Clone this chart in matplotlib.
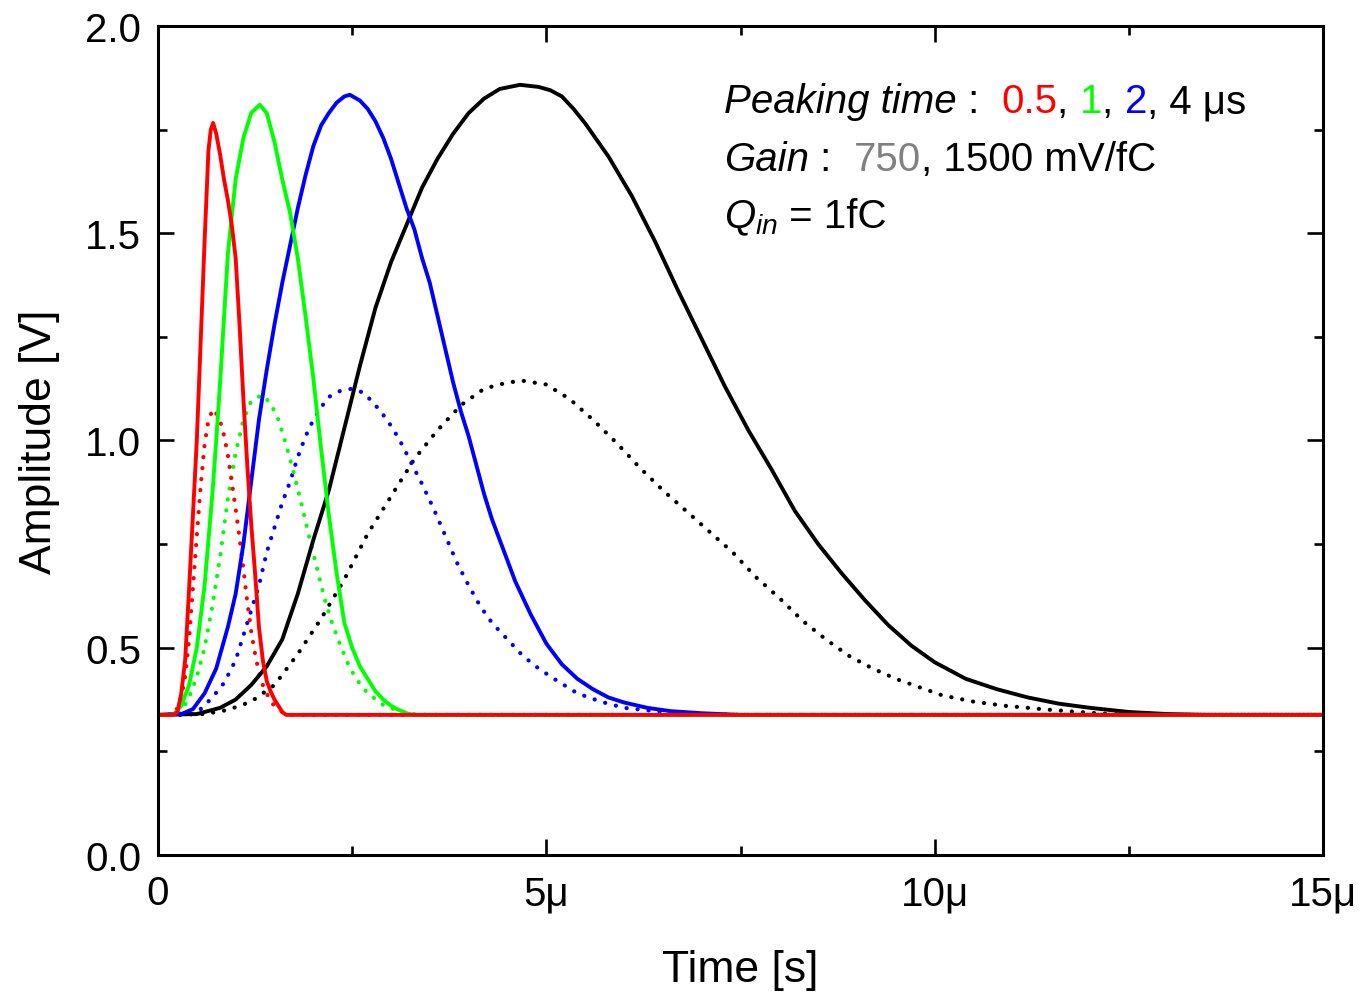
import matplotlib
matplotlib.use("Agg")
import matplotlib.pyplot as plt
from matplotlib.ticker import MultipleLocator, FixedLocator, FixedFormatter
from matplotlib.offsetbox import TextArea, HPacker, VPacker, AnchoredOffsetbox

plt.rcParams['font.family'] = ['Liberation Sans', 'DejaVu Sans']
plt.rcParams['mathtext.fontset'] = 'custom'
plt.rcParams['mathtext.rm'] = 'Liberation Sans'
plt.rcParams['mathtext.it'] = 'Liberation Sans:italic'

# ---- data (time in microseconds, amplitude in V) ----
t_red = [0, 0.2, 0.25, 0.3, 0.35, 0.4, 0.45, 0.5, 0.55, 0.6, 0.65, 0.68, 0.71, 0.75, 0.8, 0.85, 0.9, 0.95,
         1.0, 1.05, 1.1, 1.15, 1.2, 1.25, 1.3, 1.35, 1.4, 1.45, 1.5, 1.55, 1.6, 1.65, 15]
v_red = [0.338, 0.338, 0.345, 0.39, 0.47, 0.64, 0.82, 1.0, 1.24, 1.48, 1.70, 1.75, 1.766, 1.74, 1.69, 1.63, 1.58, 1.52,
         1.44, 1.28, 1.10, 0.94, 0.80, 0.68, 0.55, 0.47, 0.42, 0.395, 0.375, 0.36, 0.345, 0.338, 0.338]

t_green = [0, 0.2, 0.3, 0.4, 0.5, 0.6, 0.7, 0.75, 0.8, 0.9, 1.0, 1.1, 1.2, 1.31, 1.4, 1.5, 1.6, 1.7, 1.8, 1.9,
           2.0, 2.1, 2.2, 2.3, 2.4, 2.5, 2.6, 2.7, 2.8, 2.9, 3.0, 3.1, 3.2, 3.3, 15]
v_green = [0.338, 0.338, 0.36, 0.41, 0.50, 0.65, 0.87, 1.0, 1.14, 1.45, 1.63, 1.73, 1.79, 1.81, 1.79, 1.72, 1.63, 1.55, 1.44, 1.30,
           1.15, 0.98, 0.82, 0.68, 0.56, 0.50, 0.455, 0.425, 0.395, 0.375, 0.36, 0.35, 0.342, 0.338, 0.338]

t_blue = [0, 0.3, 0.45, 0.6, 0.75, 0.9, 1.0, 1.1, 1.2, 1.3, 1.4, 1.5, 1.6, 1.7, 1.8, 1.9, 2.0, 2.1, 2.2, 2.3, 2.4, 2.47,
          2.6, 2.7, 2.8, 2.9, 3.0, 3.1, 3.2, 3.3, 3.4, 3.5, 3.6, 3.7, 3.8, 3.9, 4.0, 4.1, 4.2, 4.3, 4.4, 4.5, 4.6,
          4.7, 4.8, 4.9, 5.0, 5.2, 5.4, 5.6, 5.8, 6.0, 6.3, 6.6, 7.0, 7.5, 15]
v_blue = [0.338, 0.34, 0.352, 0.39, 0.45, 0.55, 0.63, 0.75, 0.90, 1.05, 1.17, 1.28, 1.38, 1.47, 1.56, 1.64, 1.71, 1.76, 1.79, 1.815, 1.83, 1.834,
          1.82, 1.80, 1.77, 1.73, 1.68, 1.62, 1.56, 1.51, 1.44, 1.38, 1.30, 1.22, 1.14, 1.07, 1.01, 0.94, 0.87, 0.81, 0.76, 0.71, 0.66,
          0.62, 0.58, 0.545, 0.51, 0.46, 0.425, 0.40, 0.38, 0.368, 0.355, 0.347, 0.342, 0.338, 0.338]

t_black = [0, 0.5, 0.8, 1.0, 1.2, 1.4, 1.6, 1.8, 2.0, 2.2, 2.4, 2.6, 2.8, 3.0, 3.2, 3.4, 3.6, 3.8, 4.0, 4.2, 4.4, 4.66,
           4.9, 5.05, 5.2, 5.35, 5.5, 5.8, 6.1, 6.4, 6.7, 7.0, 7.3, 7.6, 7.9, 8.2, 8.5, 8.8, 9.1, 9.4, 9.7, 10.0, 10.4, 10.8,
           11.2, 11.6, 12.0, 12.5, 13.0, 13.5, 15]
v_black = [0.338, 0.34, 0.355, 0.375, 0.41, 0.455, 0.52, 0.63, 0.76, 0.88, 1.03, 1.18, 1.32, 1.43, 1.52, 1.61, 1.68, 1.74, 1.79, 1.825, 1.848, 1.858,
           1.853, 1.845, 1.83, 1.80, 1.765, 1.685, 1.59, 1.48, 1.36, 1.245, 1.13, 1.025, 0.93, 0.83, 0.75, 0.68, 0.615, 0.555, 0.505, 0.465, 0.425, 0.40,
           0.38, 0.365, 0.355, 0.345, 0.34, 0.338, 0.338]

t_red_d = [0, 0.2, 0.25, 0.3, 0.35, 0.4, 0.45, 0.5, 0.55, 0.6, 0.65, 0.71, 0.77, 0.83, 0.9, 0.95, 1.0, 1.05, 1.1, 1.15,
           1.2, 1.25, 1.3, 1.35, 1.4, 1.45, 1.5, 1.6, 1.7, 15]
v_red_d = [0.338, 0.338, 0.355, 0.38, 0.43, 0.52, 0.645, 0.77, 0.89, 0.99, 1.05, 1.076, 1.06, 1.03, 0.965, 0.90, 0.835, 0.765, 0.69, 0.61,
           0.54, 0.485, 0.44, 0.41, 0.39, 0.37, 0.36, 0.345, 0.338, 0.338]

t_green_d = [0, 0.25, 0.3, 0.4, 0.5, 0.6, 0.7, 0.8, 0.9, 1.0, 1.1, 1.2, 1.34, 1.45, 1.55, 1.65, 1.75, 1.85, 1.95, 2.05,
             2.15, 2.25, 2.35, 2.45, 2.55, 2.7, 2.9, 3.1, 3.3, 3.5, 15]
v_green_d = [0.338, 0.338, 0.345, 0.38, 0.43, 0.50, 0.60, 0.72, 0.86, 0.97, 1.05, 1.095, 1.11, 1.09, 1.05, 0.99, 0.92, 0.845, 0.765, 0.69,
             0.615, 0.555, 0.505, 0.46, 0.425, 0.39, 0.362, 0.347, 0.34, 0.338, 0.338]

t_blue_d = [0, 0.4, 0.55, 0.7, 0.85, 1.0, 1.1, 1.2, 1.3, 1.4, 1.5, 1.6, 1.7, 1.8, 1.9, 2.0, 2.1, 2.2, 2.35, 2.5, 2.65,
            2.8, 2.95, 3.1, 3.25, 3.4, 3.55, 3.7, 3.85, 4.0, 4.15, 4.3, 4.5, 4.7, 4.9, 5.1, 5.4, 5.7, 6.0, 6.5, 7.0, 7.5, 15]
v_blue_d = [0.338, 0.338, 0.352, 0.38, 0.415, 0.47, 0.53, 0.59, 0.65, 0.73, 0.79, 0.85, 0.90, 0.96, 1.01, 1.05, 1.08, 1.105, 1.12, 1.125, 1.115,
            1.085, 1.05, 1.005, 0.95, 0.895, 0.835, 0.77, 0.705, 0.65, 0.60, 0.56, 0.52, 0.48, 0.45, 0.425, 0.39, 0.37, 0.355, 0.345, 0.34, 0.338, 0.338]

t_black_d = [0, 0.6, 0.9, 1.2, 1.5, 1.8, 2.1, 2.4, 2.7, 3.0, 3.3, 3.6, 3.9, 4.2, 4.5, 4.7, 5.0, 5.3, 5.6, 5.9, 6.2,
             6.5, 6.8, 7.1, 7.4, 7.7, 8.0, 8.3, 8.6, 8.9, 9.2, 9.5, 9.8, 10.1, 10.5, 10.9, 11.5, 12.0, 12.5, 15]
v_black_d = [0.338, 0.34, 0.35, 0.37, 0.41, 0.485, 0.57, 0.665, 0.775, 0.865, 0.955, 1.025, 1.085, 1.125, 1.14, 1.144, 1.135, 1.10, 1.05, 0.995, 0.935,
             0.88, 0.83, 0.78, 0.73, 0.67, 0.62, 0.565, 0.52, 0.48, 0.45, 0.425, 0.405, 0.385, 0.37, 0.36, 0.35, 0.343, 0.338, 0.338]

x_ticks = [0, 5, 10, 15]
x_tick_labels = ["0", "5\u03bc", "10\u03bc", "15\u03bc"]

RED, GREEN, BLUE, BLACK, GRAY = "#ff0000", "#00ff00", "#0000ff", "#000000", "#808080"

fig = plt.figure(figsize=(13.63, 9.95), dpi=100)
ax = fig.add_axes([0.1159, 0.1397, 0.8548, 0.8332])

dot_style = dict(linestyle=(0, (0.05, 2.6)), lw=3.0, dash_capstyle='round')
ax.plot(t_black_d, v_black_d, color=BLACK, **dot_style)
ax.plot(t_blue_d, v_blue_d, color=BLUE, **dot_style)
ax.plot(t_green_d, v_green_d, color=GREEN, **dot_style)
ax.plot(t_red_d, v_red_d, color=RED, **dot_style)

sol = dict(lw=2.8, solid_joinstyle='round')
ax.plot(t_black, v_black, color=BLACK, **sol)
ax.plot(t_blue, v_blue, color=BLUE, **sol)
ax.plot(t_green, v_green, color=GREEN, **sol)
ax.plot(t_red, v_red, color=RED, **sol)

ax.set_xlim(0, 15)
ax.set_ylim(0, 2.0)
ax.xaxis.set_major_locator(FixedLocator(x_ticks))
ax.xaxis.set_major_formatter(FixedFormatter(x_tick_labels))
ax.xaxis.set_minor_locator(MultipleLocator(2.5))
ax.yaxis.set_major_locator(MultipleLocator(0.5))
ax.yaxis.set_minor_locator(MultipleLocator(0.25))
ax.yaxis.set_major_formatter(matplotlib.ticker.FormatStrFormatter('%.1f'))

for s in ax.spines.values():
    s.set_linewidth(2.2)
ax.tick_params(which='both', direction='in', top=True, right=True, width=1.9, labelsize=29)
ax.tick_params(which='major', length=11.5)
ax.tick_params(which='minor', length=6.5)
ax.tick_params(axis='y', pad=12)
ax.tick_params(axis='x', pad=14)

ax.set_xlabel("Time [s]", fontsize=32, labelpad=26)
ax.set_ylabel("Amplitude [V]", fontsize=32, labelpad=18)

fs = 29
def ta(s, color=BLACK, style='normal'):
    return TextArea(s, textprops=dict(color=color, fontsize=fs, fontstyle=style, family=['Liberation Sans', 'DejaVu Sans']))

row1 = HPacker(children=[ta("Peaking time", style='italic'), ta(" :  "), ta("0.5", RED), ta(", "),
                         ta("1", GREEN), ta(", "), ta("2", BLUE), ta(", 4 \u03bcs")], align="baseline", pad=0, sep=0)
row2 = HPacker(children=[ta("Gain", style='italic'), ta(" :  "), ta("750", GRAY), ta(", 1500 mV/fC")],
               align="baseline", pad=0, sep=0)
row3 = HPacker(children=[ta("$Q_{in}$"), ta(" = 1fC")], align="baseline", pad=0, sep=0)
box = VPacker(children=[row1, row2, row3], align="left", pad=0, sep=14)
anch = AnchoredOffsetbox(loc='upper left', child=box, pad=0, borderpad=0, frameon=False,
                         bbox_to_anchor=(0.486, 0.932), bbox_transform=ax.transAxes)
ax.add_artist(anch)

fig.savefig("out.png", dpi=100)
